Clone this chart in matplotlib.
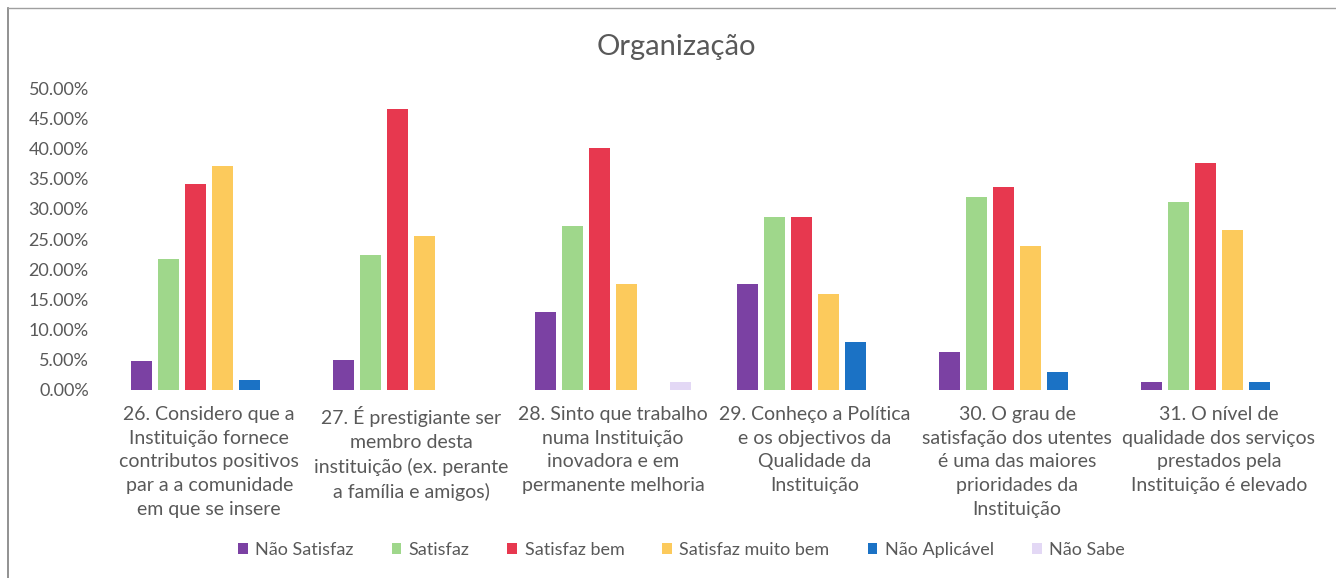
import matplotlib.pyplot as plt
import matplotlib.ticker as mticker
from matplotlib.lines import Line2D
import numpy as np

plt.rcParams['font.family'] = ['Lato', 'DejaVu Sans']

categories = [
    "26. Considero que a\nInstituição fornece\ncontributos positivos\npar a a comunidade\nem que se insere",
    "27. É prestigiante ser\nmembro desta\ninstituição (ex. perante\na família e amigos)",
    "28. Sinto que trabalho\nnuma Instituição\ninovadora e em\npermanente melhoria",
    "29. Conheço a Política\ne os objectivos da\nQualidade da\nInstituição",
    "30. O grau de\nsatisfação dos utentes\né uma das maiores\nprioridades da\nInstituição",
    "31. O nível de\nqualidade dos serviços\nprestados pela\nInstituição é elevado",
]

series_names = ["Não Satisfaz", "Satisfaz", "Satisfaz bem",
                "Satisfaz muito bem", "Não Aplicável", "Não Sabe"]

nao_satisfaz = [4.8, 4.95, 12.8, 17.6, 6.2, 1.2]
satisfaz = [21.7, 22.4, 27.2, 28.7, 32.0, 31.2]
satisfaz_bem = [34.2, 46.6, 40.1, 28.7, 33.6, 37.7]
satisfaz_muito_bem = [37.2, 25.5, 17.6, 15.8, 23.9, 26.5]
nao_aplicavel = [1.6, 0, 0, 7.9, 3.0, 1.2]
nao_sabe = [0, 0, 1.3, 0, 0, 0]

values = [nao_satisfaz, satisfaz, satisfaz_bem, satisfaz_muito_bem, nao_aplicavel, nao_sabe]
colors = ["#7b41a3", "#9fd78b", "#e7384f", "#fcca5c", "#1b72c5", "#e3d8f5"]

text_color = "#595959"

fig = plt.figure(figsize=(13.36, 5.78), dpi=100)
ax = fig.add_axes([0.081, 0.326, 0.907, 0.521])

x = np.arange(len(categories))
pitch = 0.134
width = 0.104
for k, (name, vals, c) in enumerate(zip(series_names, values, colors)):
    ax.bar(x + (k - 2.5) * pitch, vals, width, color=c, label=name)

ax.set_xlim(-0.5, len(categories) - 0.5)
ax.set_ylim(0, 50)
ax.set_yticks(np.arange(0, 50.1, 5))
ax.yaxis.set_major_formatter(mticker.FuncFormatter(lambda v, p: f"{v:.2f}%"))
ax.set_xticks(x)
ax.set_xticklabels(categories, linespacing=1.47)

ax.tick_params(axis='both', length=0, colors=text_color)
ax.tick_params(axis='y', labelsize=13, pad=14)
ax.tick_params(axis='x', labelsize=14, pad=12)
for s in ax.spines.values():
    s.set_visible(False)

fig.text(0.506, 0.918, "Organização", ha='center', va='center',
         fontsize=21, color=text_color)

leg = fig.legend(loc='center', bbox_to_anchor=(0.51, 0.048), ncol=6,
                 frameon=False, fontsize=13, handlelength=0.55,
                 handleheight=0.55, handletextpad=0.4, columnspacing=2.1)
for t in leg.get_texts():
    t.set_color(text_color)

# chart frame
fig.add_artist(Line2D([0.006, 0.006], [0.0, 0.986], color="#7f7f7f", lw=1.2,
                      transform=fig.transFigure))
fig.add_artist(Line2D([0.006, 1.0], [0.986, 0.986], color="#9f9f9f", lw=1.0,
                      transform=fig.transFigure))

fig.savefig("out.png", dpi=100)
